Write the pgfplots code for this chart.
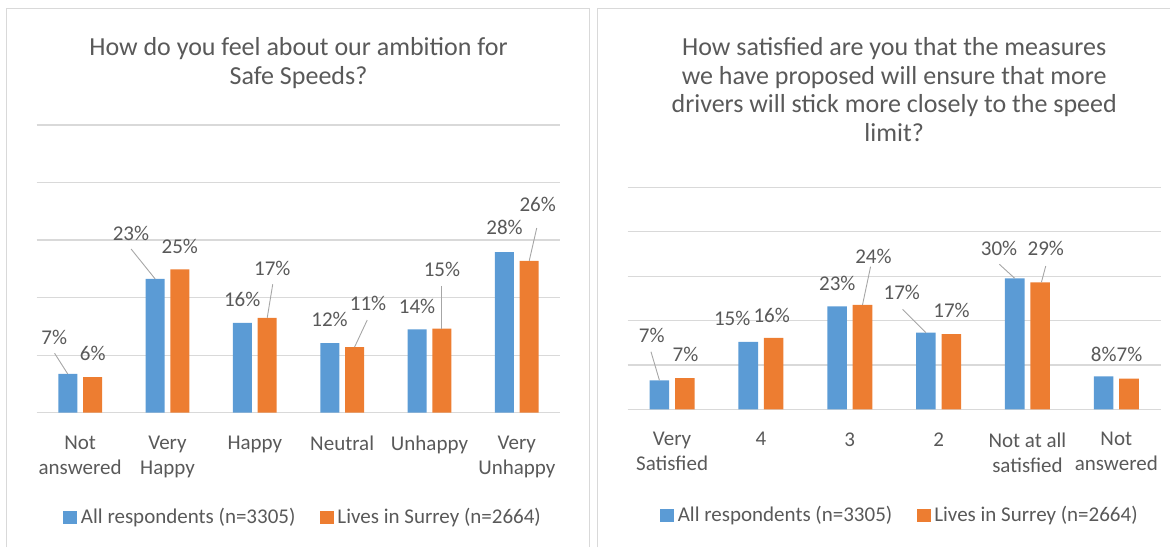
\documentclass[border=0pt]{standalone}
\usepackage{pgfplots}
\pgfplotsset{compat=1.18}
\usepackage{fontspec}
\setmainfont{Carlito}
\definecolor{barblue}{HTML}{5B9BD5}
\definecolor{barorange}{HTML}{ED7D31}
\definecolor{gridgray}{HTML}{D9D9D9}
\definecolor{txtgray}{HTML}{595959}
\definecolor{leadgray}{HTML}{A6A6A6}
\newcommand{\lblfont}{\fontsize{21}{25}\selectfont}
\newcommand{\ttlfont}{\fontsize{26}{28.5}\selectfont}
\pgfplotsset{
  mychart/.style={
    scale only axis, clip=false,
    xmin=-0.5, xmax=5.5, ymin=0, ymax=50, enlargelimits=false,
    xtick={0,...,5}, ytick={0,10,...,50}, yticklabels={},
    ymajorgrids, grid style={draw=gridgray, line width=1.2pt},
    axis line style={draw=none}, tick style={draw=none}, major tick length=0pt,
    xticklabel style={font=\lblfont, text=txtgray, align=center, anchor=north, inner sep=0pt, yshift=-23pt},
    title style={font=\ttlfont, text=txtgray, align=center, anchor=south, inner sep=0pt, at={(0.5,1)}},
    legend columns=2,
    legend style={draw=none, fill=none, inner sep=0pt, anchor=center, font=\lblfont, text=txtgray,
      nodes={inner sep=0pt},
      /tikz/every odd column/.append style={column sep=4.3pt},
      /tikz/every even column/.append style={column sep=24.5pt}},
  },
  lbls/.style={draw=none, mark=none, forget plot, point meta=explicit symbolic,
    nodes near coords={\pgfplotspointmeta\%},
    nodes near coords style={anchor=center, inner sep=0pt, font=\lblfont, text=txtgray}},
  leader/.style={leadgray, line width=0.9pt, mark=none, forget plot},
}
\begin{document}
\begin{tikzpicture}
\path[use as bounding box] (0,0) rectangle (1170pt,547pt);
\draw[gridgray, line width=1pt] (6.5pt,0pt) -- (6.5pt,538pt) -- (589pt,538pt) -- (589pt,0pt);
\draw[gridgray, line width=1pt] (597pt,0pt) -- (597pt,538pt) -- (1170pt,538pt);

\begin{axis}[mychart,
  at={(36.5pt,134.3pt)}, anchor=south west, width=524pt, height=287.7pt,
  xticklabels={{Not\\answered},{Very\\Happy},Happy,Neutral,Unhappy,{Very\\Unhappy}},
  title={How do you feel about our ambition for\\Safe Speeds?},
  title style={yshift=30.5pt},
  legend style={at={(0.507,-0.3625)}},
]
\addplot[ybar, bar width=19pt, bar shift=-12.4pt, fill=barblue, draw=none, forget plot]
  coordinates {(0,6.73) (1,23.24) (2,15.6) (3,12.1) (4,14.5) (5,27.9)};
\addplot[ybar, bar width=19pt, bar shift=12.4pt, fill=barorange, draw=none, forget plot]
  coordinates {(0,6.2) (1,24.9) (2,16.5) (3,11.4) (4,14.6) (5,26.4)};
\addplot[leader] coordinates {(-0.293,10.33) (-0.142,6.73)};
\addplot[leader] coordinates {(0.583,28.45) (0.859,23.24)};
\addplot[leader] coordinates {(2.205,22.32) (2.142,16.5)};
\addplot[leader] coordinates {(3.287,16.11) (3.142,11.4)};
\addplot[leader] coordinates {(4.142,22.02) (4.142,14.6)};
\addplot[leader] coordinates {(5.228,32.1) (5.142,26.4)};
\addplot[lbls] table[meta=l] {
x y l
-0.297 13.16 7
0.144 10.38 6
0.581 31.24 23
1.141 28.98 25
1.855 19.76 16
2.200 25.15 17
2.856 16.29 12
3.296 19.07 11
3.858 18.55 14
4.143 24.98 15
4.859 32.28 28
5.239 36.28 26
};
\addlegendimage{legend image code/.code={\fill[barblue] (0pt,-6.2pt) rectangle (12.8pt,6.2pt);}}
\addlegendentry{All respondents (n=3305)}
\addlegendimage{legend image code/.code={\fill[barorange] (0pt,-6.2pt) rectangle (12.8pt,6.2pt);}}
\addlegendentry{Lives in Surrey (n=2664)}
\end{axis}

\begin{axis}[mychart,
  at={(627.7pt,137.7pt)}, anchor=south west, width=533pt, height=222pt,
  xticklabels={{Very\\Satisfied},4,3,2,{Not at all\\satisfied},{Not\\answered}},
  title={How satisfied are you that the measures\\we have proposed will ensure that more\\drivers will stick more closely to the speed\\limit?},
  title style={yshift=39.7pt},
  legend style={at={(0.509,-0.476)}},
]
\addplot[ybar, bar width=19.6pt, bar shift=-12.7pt, fill=barblue, draw=none, forget plot]
  coordinates {(0,6.53) (1,15.16) (2,23.2) (3,17.25) (4,29.5) (5,7.43)};
\addplot[ybar, bar width=19.6pt, bar shift=12.7pt, fill=barorange, draw=none, forget plot]
  coordinates {(0,7.05) (1,16.06) (2,23.5) (3,16.96) (4,28.6) (5,6.9)};
\addplot[leader] coordinates {(-0.238,12.97) (-0.143,6.53)};
\addplot[leader] coordinates {(2.234,32.12) (2.143,23.5)};
\addplot[leader] coordinates {(2.595,22.52) (2.857,17.25)};
\addplot[leader] coordinates {(3.684,32.66) (3.857,29.5)};
\addplot[leader] coordinates {(4.206,32.27) (4.157,28.6)};
\addplot[lbls] table[meta=l] {
x y l
-0.229 16.73 7
0.151 12.45 7
0.676 20.56 15
1.121 21.24 16
1.860 28.38 23
2.266 34.53 24
2.585 26.26 17
3.146 22.36 17
3.680 36.26 30
4.206 36.26 29
4.859 12.45 8
5.148 12.45 7
};
\addlegendimage{legend image code/.code={\fill[barblue] (0pt,-6.2pt) rectangle (12.8pt,6.2pt);}}
\addlegendentry{All respondents (n=3305)}
\addlegendimage{legend image code/.code={\fill[barorange] (0pt,-6.2pt) rectangle (12.8pt,6.2pt);}}
\addlegendentry{Lives in Surrey (n=2664)}
\end{axis}
\end{tikzpicture}
\end{document}
